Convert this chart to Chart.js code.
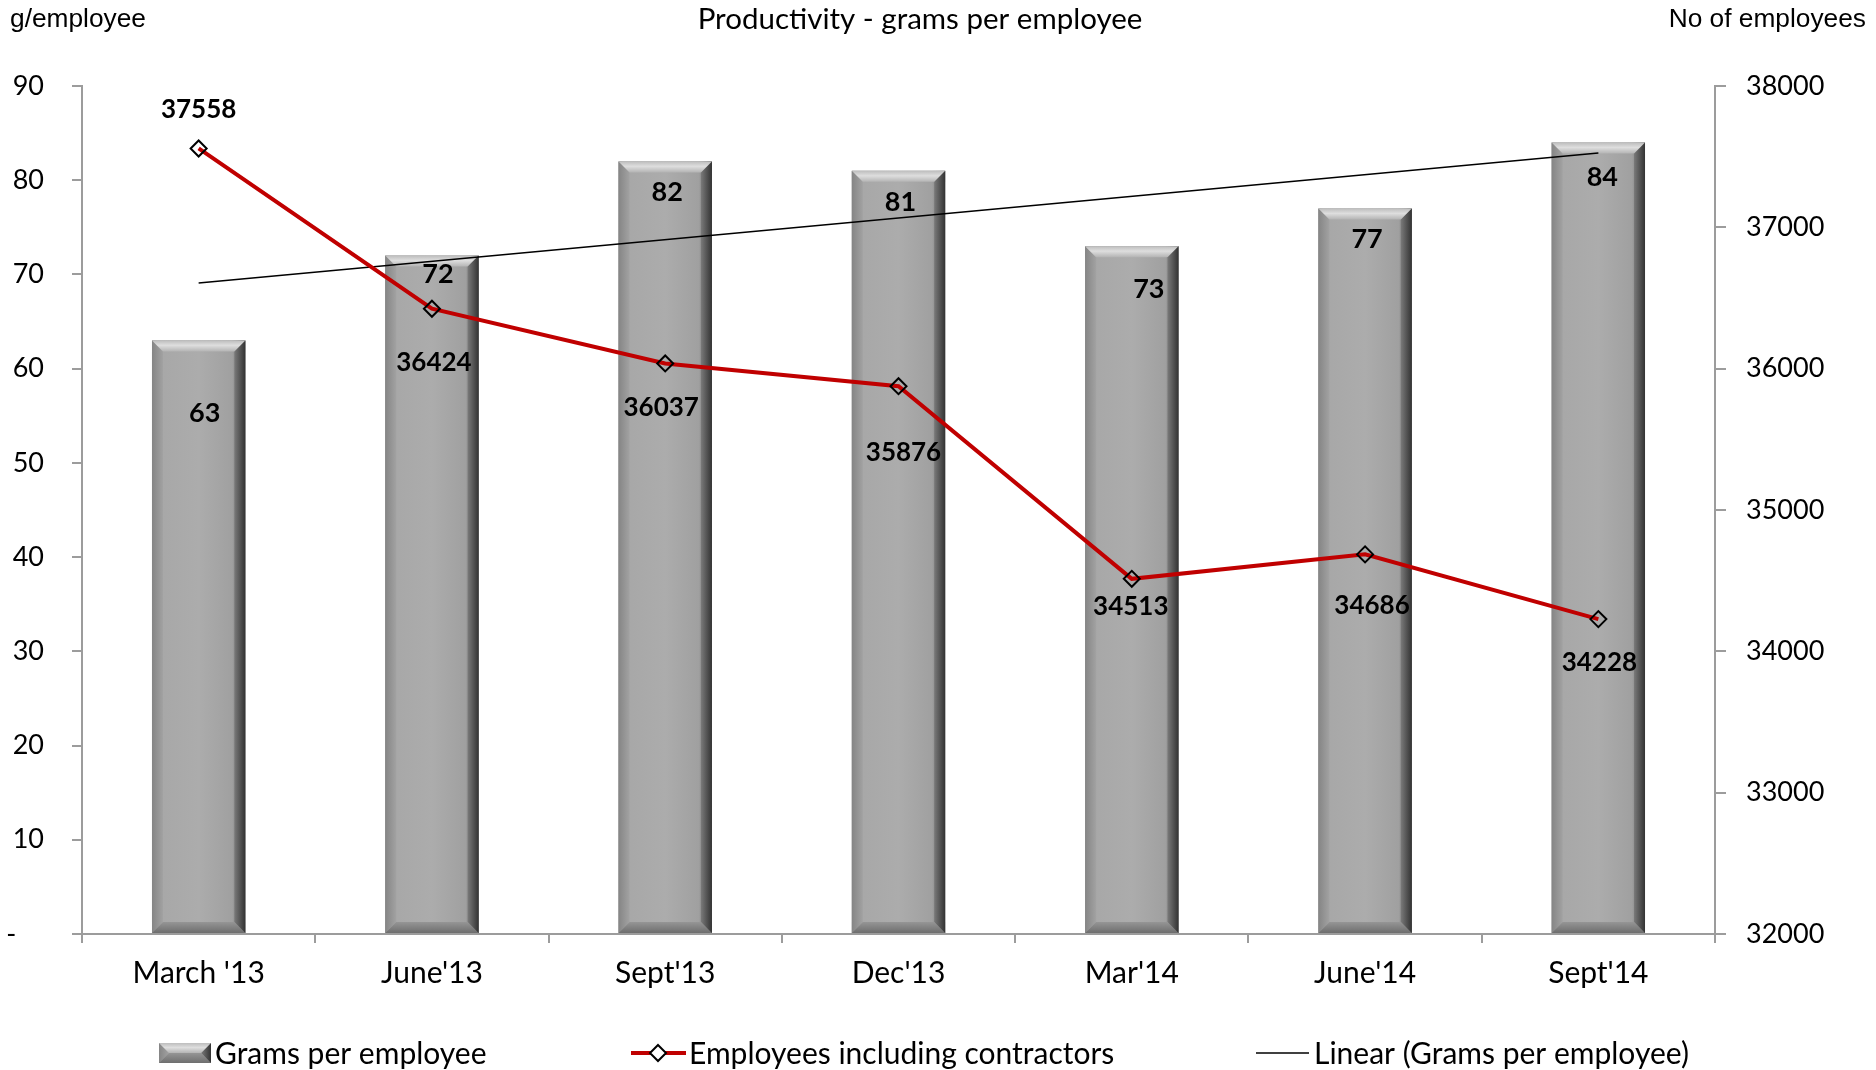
<!DOCTYPE html>
<html>
<head>
<meta charset="utf-8">
<title>Productivity - grams per employee</title>
<script src="https://cdn.jsdelivr.net/npm/chart.js@4/dist/chart.umd.min.js"></script>
<style>
  html, body { margin: 0; padding: 0; background: #ffffff; }
  canvas { display: block; }
</style>
</head>
<body>
<canvas id="productivity" width="1876" height="1070"></canvas>
<script>
// Quarterly figures
const categories = ["March '13", "June'13", "Sept'13", "Dec'13", "Mar'14", "June'14", "Sept'14"];
const gramsPerEmployee = [63, 72, 82, 81, 73, 77, 84];
const employeesInclContractors = [37558, 36424, 36037, 35876, 34513, 34686, 34228];
// Linear trend of grams per employee (end points of the fitted line)
const gramsTrend = [69.1, null, null, null, null, null, 82.9];

// Axis ranges
const gramsAxis = { min: 0, max: 90, step: 10 };
const staffAxis = { min: 32000, max: 38000, step: 1000 };

// Value-label nudges in pixels [dx, dy] (bar labels from bar top, line labels from point)
const barLabelShift = [[6, 73], [6, 19], [2, 31], [2, 31], [17, 43], [2, 31], [4, 35]];
const lineLabelShift = [[0, -39], [2, 54], [-4, 44], [5, 66], [-1, 28], [7, 51], [1, 44]];

const UI_FONT = "Lato, 'Open Sans', sans-serif";
const AXIS_GREY = '#9c9c9c';
const RED = '#c00000';

// Bevelled grey column
function paintBevelBar(ctx, x0, x1, yTop, yBase) {
  const w = x1 - x0, h = yBase - yTop;
  const b = Math.min(11, w / 4, h / 2);
  const face = ctx.createLinearGradient(x0, 0, x1, 0);
  face.addColorStop(0, '#8f8f8f');
  face.addColorStop(0.05, '#a7a7a7');
  face.addColorStop(0.5, '#acacac');
  face.addColorStop(0.86, '#a0a0a0');
  face.addColorStop(0.94, '#777777');
  face.addColorStop(1, '#3c3c3c');
  ctx.fillStyle = face;
  ctx.fillRect(x0, yTop, w, h);

  // left bevel
  ctx.beginPath();
  ctx.moveTo(x0, yTop); ctx.lineTo(x0 + b, yTop + b); ctx.lineTo(x0 + b, yBase - b); ctx.lineTo(x0, yBase);
  ctx.closePath();
  const lg = ctx.createLinearGradient(x0, 0, x0 + b, 0);
  lg.addColorStop(0, '#858585'); lg.addColorStop(1, '#a2a2a2');
  ctx.fillStyle = lg; ctx.fill();

  // right bevel
  ctx.beginPath();
  ctx.moveTo(x1, yTop); ctx.lineTo(x1, yBase); ctx.lineTo(x1 - b, yBase - b); ctx.lineTo(x1 - b, yTop + b);
  ctx.closePath();
  const rg = ctx.createLinearGradient(x1 - b, 0, x1, 0);
  rg.addColorStop(0, '#7a7a7a'); rg.addColorStop(1, '#333333');
  ctx.fillStyle = rg; ctx.fill();

  // top bevel
  ctx.beginPath();
  ctx.moveTo(x0, yTop); ctx.lineTo(x1, yTop); ctx.lineTo(x1 - b, yTop + b); ctx.lineTo(x0 + b, yTop + b);
  ctx.closePath();
  const tg = ctx.createLinearGradient(0, yTop, 0, yTop + b);
  tg.addColorStop(0, '#bdbdbd'); tg.addColorStop(0.45, '#dedede'); tg.addColorStop(1, '#b4b4b4');
  ctx.fillStyle = tg; ctx.fill();

  // bottom bevel
  ctx.beginPath();
  ctx.moveTo(x0, yBase); ctx.lineTo(x1, yBase); ctx.lineTo(x1 - b, yBase - b); ctx.lineTo(x0 + b, yBase - b);
  ctx.closePath();
  const bg = ctx.createLinearGradient(0, yBase - b, 0, yBase);
  bg.addColorStop(0, '#959595'); bg.addColorStop(1, '#6e6e6e');
  ctx.fillStyle = bg; ctx.fill();
}

// Shades each column right after the bar dataset is drawn (below the lines)
const bevelPlugin = {
  id: 'bevelBars',
  afterDatasetDraw(chart, args) {
    if (args.meta.type !== 'bar') return;
    const ctx = chart.ctx;
    ctx.save();
    args.meta.data.forEach(el => {
      const p = el.getProps(['x', 'y', 'base', 'width'], true);
      paintBevelBar(ctx, p.x - p.width / 2, p.x + p.width / 2, p.y, p.base);
    });
    ctx.restore();
  }
};

// Value labels for columns and the employee line
const valueLabelPlugin = {
  id: 'valueLabels',
  afterDatasetsDraw(chart) {
    const ctx = chart.ctx;
    ctx.save();
    ctx.fillStyle = '#000';
    ctx.textAlign = 'center';
    ctx.textBaseline = 'middle';
    ctx.font = `bold 27px ${UI_FONT}`;
    chart.getDatasetMeta(0).data.forEach((el, i) => {
      const [dx, dy] = barLabelShift[i];
      ctx.fillText(String(gramsPerEmployee[i]), el.x + dx, el.y + dy);
    });
    ctx.font = `bold 26px ${UI_FONT}`;
    chart.getDatasetMeta(1).data.forEach((el, i) => {
      const [dx, dy] = lineLabelShift[i];
      ctx.fillText(String(employeesInclContractors[i]), el.x + dx, el.y + dy);
    });
    ctx.restore();
  }
};

// Title, axis captions and legend row
const captionPlugin = {
  id: 'captions',
  afterDraw(chart) {
    const ctx = chart.ctx;
    ctx.save();
    ctx.fillStyle = '#000';
    ctx.textBaseline = 'middle';

    ctx.font = `29.5px ${UI_FONT}`;
    ctx.textAlign = 'center';
    ctx.fillText('Productivity - grams per employee', 920, 19);

    ctx.font = "26.3px 'Liberation Sans', Arial, sans-serif";
    ctx.textAlign = 'left';
    ctx.fillText('g/employee', 10, 20);
    ctx.textAlign = 'right';
    ctx.fillText('No of employees', 1866, 20);

    // legend
    const ly = 1053;
    ctx.font = `30px ${UI_FONT}`;
    ctx.textAlign = 'left';
    paintBevelBar(ctx, 159, 211, ly - 10, ly + 10);
    ctx.fillStyle = '#000';
    ctx.fillText('Grams per employee', 215, ly + 1);

    ctx.strokeStyle = RED; ctx.lineWidth = 4;
    ctx.beginPath(); ctx.moveTo(631, ly); ctx.lineTo(686, ly); ctx.stroke();
    ctx.beginPath();
    ctx.moveTo(658, ly - 8); ctx.lineTo(666, ly); ctx.lineTo(658, ly + 8); ctx.lineTo(650, ly);
    ctx.closePath();
    ctx.fillStyle = '#fff'; ctx.fill();
    ctx.strokeStyle = '#000'; ctx.lineWidth = 2; ctx.stroke();
    ctx.fillStyle = '#000';
    ctx.fillText('Employees including contractors', 689, ly + 1);

    ctx.strokeStyle = '#000'; ctx.lineWidth = 1.5;
    ctx.beginPath(); ctx.moveTo(1256, ly); ctx.lineTo(1309, ly); ctx.stroke();
    ctx.fillText('Linear (Grams per employee)', 1314, ly + 1);
    ctx.restore();
  }
};

new Chart(document.getElementById('productivity'), {
  type: 'bar',
  data: {
    labels: categories,
    datasets: [
      {
        type: 'bar',
        label: 'Grams per employee',
        data: gramsPerEmployee,
        yAxisID: 'y',
        backgroundColor: '#aaaaaa',
        borderWidth: 0,
        barPercentage: 0.8,
        categoryPercentage: 0.5,
        order: 3
      },
      {
        type: 'line',
        label: 'Employees including contractors',
        data: employeesInclContractors,
        yAxisID: 'y1',
        borderColor: RED,
        borderWidth: 4,
        tension: 0,
        pointStyle: 'rectRot',
        pointRadius: 8,
        pointBorderWidth: 2,
        pointBorderColor: '#000',
        pointBackgroundColor: 'rgba(255,255,255,0)',
        order: 1
      },
      {
        type: 'line',
        label: 'Linear (Grams per employee)',
        data: gramsTrend,
        yAxisID: 'y',
        spanGaps: true,
        borderColor: '#000',
        borderWidth: 1.5,
        pointRadius: 0,
        order: 2
      }
    ]
  },
  options: {
    responsive: false,
    devicePixelRatio: 1,
    animation: false,
    events: [],
    layout: { padding: { top: 86, left: 0, right: 0, bottom: 0 } },
    plugins: {
      legend: { display: false },
      title: { display: false },
      tooltip: { enabled: false }
    },
    scales: {
      x: {
        offset: true,
        grid: { offset: true, drawOnChartArea: false, drawTicks: true, tickLength: 9, color: AXIS_GREY, lineWidth: 2 },
        border: { color: AXIS_GREY, width: 2 },
        ticks: { color: '#000', font: { family: UI_FONT, size: 30 }, padding: 12, maxRotation: 0, autoSkip: false },
        afterFit(scale) { scale.height = 136; }
      },
      y: {
        position: 'left',
        min: gramsAxis.min,
        max: gramsAxis.max,
        grid: { drawOnChartArea: false, tickLength: 10, color: AXIS_GREY, lineWidth: 2 },
        border: { color: AXIS_GREY, width: 2 },
        ticks: {
          stepSize: gramsAxis.step,
          color: '#000',
          padding: 28,
          font: { family: UI_FONT, size: 27 },
          callback: v => (v === 0 ? '-    ' : String(v))
        },
        afterFit(scale) { scale.width = 82; }
      },
      y1: {
        position: 'right',
        min: staffAxis.min,
        max: staffAxis.max,
        grid: { drawOnChartArea: false, tickLength: 11, color: AXIS_GREY, lineWidth: 2 },
        border: { color: AXIS_GREY, width: 2 },
        ticks: {
          stepSize: staffAxis.step,
          color: '#000',
          padding: 20,
          font: { family: UI_FONT, size: 27 },
          callback: v => String(v)
        },
        afterFit(scale) { scale.width = 161; }
      }
    }
  },
  plugins: [bevelPlugin, valueLabelPlugin, captionPlugin]
});
</script>
</body>
</html>
